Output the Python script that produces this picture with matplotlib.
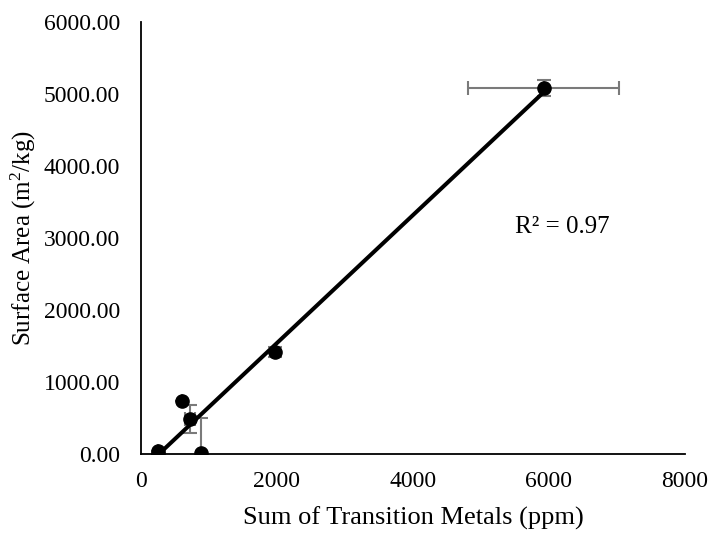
import numpy as np
import matplotlib
matplotlib.use('Agg')
import matplotlib.pyplot as plt

plt.rcParams['font.family'] = ['Liberation Serif', 'DejaVu Serif']
plt.rcParams['mathtext.fontset'] = 'custom'
plt.rcParams['mathtext.rm'] = 'Liberation Serif'
plt.rcParams['mathtext.default'] = 'regular'

# metals sum (ppm) vs surface area (m2/kg)
metals = [250, 250, 880, 603, 720, 1970, 5920]
area = [40, 0, 10, 736, 490, 1420, 5080]
metals_err = [0, 0, 0, 0, 70, 0, 1110]
area_err = [0, 0, 490, 0, 195, 70, 110]

x_ticks = [0, 2000, 4000, 6000, 8000]
y_ticks = [0, 1000, 2000, 3000, 4000, 5000, 6000]

fig = plt.figure(figsize=(7.12, 5.33), dpi=100)
ax = fig.add_axes([0.198, 0.148, 0.764, 0.8105])

ax.errorbar(metals, area, xerr=metals_err, yerr=area_err, fmt='none',
            ecolor='#7a7a7a', elinewidth=1.5, capsize=5, capthick=1.5, zorder=2)
ax.plot(metals, area, 'o', color='black', markersize=9.5, zorder=4)

# linear trend line over the data range
slope, icpt = np.polyfit(metals, area, 1)
fit_x = np.array([min(metals), max(metals)])
ax.plot(fit_x, slope * fit_x + icpt, color='black', linewidth=2.9, zorder=3)

pred = slope * np.array(metals) + icpt
r2 = 1 - np.sum((np.array(area) - pred) ** 2) / np.sum((np.array(area) - np.mean(area)) ** 2)
ax.text(5500, 3150, 'R² = %.2f' % r2, fontsize=18, va='center')

ax.set_xlim(0, 8000)
ax.set_ylim(0, 6000)
ax.set_xticks(x_ticks)
ax.set_yticks(y_ticks)
ax.set_yticklabels(['%.2f' % v for v in y_ticks])
ax.tick_params(length=0, labelsize=17)
ax.tick_params(axis='x', pad=12)
ax.tick_params(axis='y', pad=15)
ax.spines['top'].set_visible(False)
ax.spines['right'].set_visible(False)
ax.spines['left'].set_linewidth(1.3)
ax.spines['bottom'].set_linewidth(1.3)

ax.set_xlabel('Sum of Transition Metals (ppm)', fontsize=19, labelpad=11)
ax.set_ylabel('Surface Area (m$^2$/kg)', fontsize=18, labelpad=4)

fig.savefig('out.png', dpi=100)
